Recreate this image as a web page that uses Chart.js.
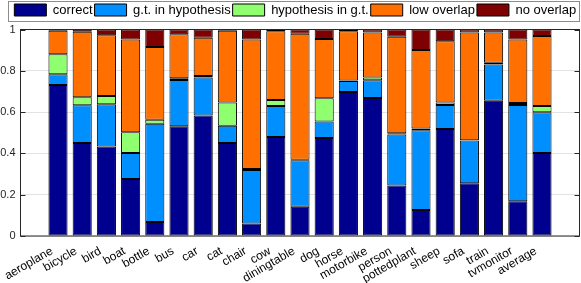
<!DOCTYPE html>
<html>
<head>
<meta charset="utf-8">
<script src="https://cdn.jsdelivr.net/npm/chart.js@4"></script>
<style>
  html, body { margin: 0; padding: 0; background: #fff; }
</style>
</head>
<body>
<canvas id="grafico" width="581" height="283"></canvas>
<script>
// categories and stacked shares
const categories = ["aeroplane", "bicycle", "bird", "boat", "bottle", "bus", "car", "cat", "chair", "cow",
  "diningtable", "dog", "horse", "motorbike", "person", "pottedplant", "sheep", "sofa", "train", "tvmonitor", "average"];
const correct     = [0.731, 0.450, 0.434, 0.276, 0.068, 0.531, 0.583, 0.450, 0.061, 0.479, 0.142, 0.475, 0.697, 0.668, 0.244, 0.126, 0.518, 0.255, 0.655, 0.168, 0.402];
const gtInHyp     = [0.052, 0.183, 0.204, 0.126, 0.476, 0.224, 0.185, 0.084, 0.259, 0.151, 0.225, 0.080, 0.054, 0.086, 0.247, 0.386, 0.116, 0.207, 0.176, 0.466, 0.197];
const hypInGt     = [0.097, 0.039, 0.040, 0.100, 0.019, 0.009, 0.007, 0.112, 0.005, 0.029, 0.002, 0.112, 0.002, 0.013, 0.006, 0.009, 0.013, 0.002, 0.008, 0.010, 0.031];
const lowOverlap  = [0.114, 0.317, 0.294, 0.449, 0.352, 0.213, 0.185, 0.348, 0.626, 0.332, 0.611, 0.287, 0.238, 0.219, 0.468, 0.380, 0.296, 0.521, 0.146, 0.307, 0.339];
const noOverlap   = [0.006, 0.011, 0.028, 0.049, 0.085, 0.023, 0.040, 0.006, 0.049, 0.009, 0.020, 0.046, 0.009, 0.014, 0.035, 0.099, 0.057, 0.015, 0.015, 0.049, 0.031];
const yTicks = [0, 0.2, 0.4, 0.6, 0.8, 1];

const series = [
  { label: "correct", data: correct, color: "#00008f" },
  { label: "g.t. in hypothesis", data: gtInHyp, color: "#008fff" },
  { label: "hypothesis in g.t.", data: hypInGt, color: "#8fff70" },
  { label: "low overlap", data: lowOverlap, color: "#ff7000" },
  { label: "no overlap", data: noOverlap, color: "#7f0000" }
];

// legend height/offset + axes frame, legend frame and inward ticks
const moldura = {
  id: "moldura",
  afterInit(chart) {
    const legend = chart.legend;
    const fit = legend.fit.bind(legend);
    legend.fit = () => {
      fit();
      legend.height = 28;
      if (legend.lineWidths) legend.lineWidths[0] -= 11; // nudge the row to the right
    };
  },
  afterDraw(chart) {
    const { ctx, chartArea: a, scales } = chart;
    ctx.save();
    const hb = chart.legend.legendHitBoxes;
    if (hb && hb.length) {
      const l = Math.round(hb[0].left - 6) + 0.5;
      const last = hb[hb.length - 1];
      const r = Math.min(Math.round(last.left + last.width + 4), 579) + 0.5;
      const t = Math.round(hb[0].top - 3) + 0.5;
      const b = Math.round(hb[0].top + hb[0].height + 4) + 0.5;
      ctx.strokeStyle = "#8c8c8c";
      ctx.lineWidth = 1;
      ctx.strokeRect(l, t, r - l, b - t);
    }
    ctx.strokeStyle = "#262626";
    ctx.lineWidth = 1;
    ctx.strokeRect(a.left, a.top, a.right - a.left, a.bottom - a.top);
    yTicks.forEach(v => {
      const py = Math.round(scales.y.getPixelForValue(v)) + 0.5;
      ctx.beginPath();
      ctx.moveTo(a.left, py); ctx.lineTo(a.left + 5, py);
      ctx.moveTo(a.right, py); ctx.lineTo(a.right - 5, py);
      ctx.stroke();
    });
    ctx.restore();
  }
};

const ctx = document.getElementById("grafico").getContext("2d");
new Chart(ctx, {
  type: "bar",
  data: {
    datasets: series.map(s => ({
      label: s.label,
      data: s.data.map((v, i) => ({ x: i + 1, y: v })),
      backgroundColor: s.color,
      borderColor: "#000",
      borderWidth: 1,
      borderSkipped: false,
      categoryPercentage: 1,
      barPercentage: 0.79
    }))
  },
  options: {
    responsive: false,
    animation: false,
    layout: { padding: { left: 0, right: 1.5, top: 1.5, bottom: 0 } },
    plugins: {
      legend: {
        position: "top",
        labels: {
          boxWidth: 32,
          boxHeight: 12,
          padding: 2,
          color: "#000",
          font: { family: "Liberation Sans, Arial, sans-serif", size: 13 }
        }
      },
      tooltip: { enabled: true }
    },
    scales: {
      x: {
        type: "linear",
        stacked: true,
        min: 0,
        max: 22,
        afterBuildTicks: axis => { axis.ticks = categories.map((c, i) => ({ value: i + 1 })); },
        afterFit: scale => { scale.height = 47; },
        grid: { display: false, drawTicks: false },
        border: { display: false },
        ticks: {
          autoSkip: false,
          minRotation: 30,
          maxRotation: 30,
          padding: 8,
          labelOffset: -6,
          color: "#000",
          font: { family: "Liberation Sans, Arial, sans-serif", size: 12 },
          callback: v => categories[v - 1]
        }
      },
      y: {
        stacked: true,
        min: 0,
        max: 1,
        afterBuildTicks: axis => { axis.ticks = yTicks.map(v => ({ value: v })); },
        afterFit: scale => { scale.width = 20.5; },
        grid: { color: "#e3e3e3", drawTicks: false },
        border: { display: false },
        ticks: {
          padding: 5,
          color: "#262626",
          font: { family: "Liberation Sans, Arial, sans-serif", size: 11 },
          callback: v => (v === 0 || v === 1) ? String(v) : v.toFixed(1)
        }
      }
    }
  },
  plugins: [moldura]
});
</script>
</body>
</html>
